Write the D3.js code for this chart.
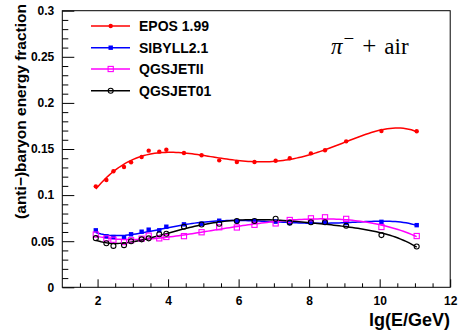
<!DOCTYPE html>
<html>
<head>
<meta charset="utf-8">
<script src="https://cdn.jsdelivr.net/npm/d3@7"></script>
<style>
  html, body { margin: 0; padding: 0; background: #fff; }
  svg { display: block; font-family: "Liberation Sans", Arial, Helvetica, sans-serif; }
</style>
</head>
<body>
<svg id="chart" width="458" height="331"></svg>
<script>
// lg(E/GeV) sampling points shared by all models
const lgE = [1.95, 2.25, 2.45, 2.75, 2.95, 3.25, 3.45, 3.75, 3.95, 4.45, 4.95, 5.45, 5.95, 6.45, 7.05, 7.45, 8.05, 8.45, 9.05, 10.05, 11.05];

// (anti-)baryon energy fraction per hadronic interaction model
const epos   = [0.1095, 0.1164, 0.1258, 0.1305, 0.1356, 0.1413, 0.1482, 0.1471, 0.1492, 0.1457, 0.1432, 0.1377, 0.1359, 0.1359, 0.1373, 0.1399, 0.1453, 0.1486, 0.1583, 0.1695, 0.1692];
const sibyll = [0.0618, 0.0553, 0.0545, 0.0542, 0.0575, 0.0603, 0.0625, 0.0618, 0.0657, 0.0683, 0.0690, 0.0722, 0.0716, 0.0719, 0.0712, 0.0697, 0.0705, 0.0705, 0.0697, 0.0710, 0.0674];
const qgsII  = [0.0572, 0.0530, 0.0516, 0.0491, 0.0510, 0.0527, 0.0560, 0.0531, 0.0546, 0.0555, 0.0597, 0.0651, 0.0649, 0.0678, 0.0693, 0.0730, 0.0748, 0.0759, 0.0742, 0.0654, 0.0556];
const qgs01  = [0.0533, 0.0478, 0.0449, 0.0457, 0.0499, 0.0520, 0.0531, 0.0575, 0.0581, 0.0656, 0.0681, 0.0690, 0.0719, 0.0719, 0.0743, 0.0702, 0.0705, 0.0705, 0.0667, 0.0566, 0.0443];

const modelNames = ["EPOS 1.99", "SIBYLL2.1", "QGSJETII", "QGSJET01"];

// axis ticks
const xMajorTicks = [2, 4, 6, 8, 10, 12];
const yMajorTicks = [0, 0.05, 0.1, 0.15, 0.2, 0.25, 0.3];
const yTickLabels = ["0", "0.05", "0.1", "0.15", "0.2", "0.25", "0.3"];

const series = [
  { name: modelNames[0], values: epos,   color: "#ff0000", marker: "dot" },
  { name: modelNames[1], values: sibyll, color: "#0000ff", marker: "square" },
  { name: modelNames[2], values: qgsII,  color: "#ff00ff", marker: "openSquare" },
  { name: modelNames[3], values: qgs01,  color: "#000000", marker: "openCircle" }
];

// least-squares polynomial fit (returns an evaluator), x centred/scaled for stability
function polyFit(xs, ys, deg) {
  const xm = d3.mean(xs), xs2 = (d3.max(xs) - d3.min(xs)) / 2;
  const t = xs.map(v => (v - xm) / xs2);
  const n = deg + 1;
  const A = Array.from({ length: n }, () => new Array(n + 1).fill(0));
  t.forEach((ti, k) => {
    for (let i = 0; i < n; i++) {
      for (let j = 0; j < n; j++) A[i][j] += Math.pow(ti, i + j);
      A[i][n] += ys[k] * Math.pow(ti, i);
    }
  });
  for (let c = 0; c < n; c++) {
    let p = c;
    for (let r = c + 1; r < n; r++) if (Math.abs(A[r][c]) > Math.abs(A[p][c])) p = r;
    [A[c], A[p]] = [A[p], A[c]];
    for (let r = 0; r < n; r++) {
      if (r === c) continue;
      const f = A[r][c] / A[c][c];
      for (let j = c; j <= n; j++) A[r][j] -= f * A[c][j];
    }
  }
  const coef = A.map((row, i) => row[n] / row[i]);
  return v => {
    const tv = (v - xm) / xs2;
    return coef.reduce((s, c, i) => s + c * Math.pow(tv, i), 0);
  };
}

const svg = d3.select("#chart");
svg.append("rect").attr("width", 458).attr("height", 331).attr("fill", "#fff");

const x = d3.scaleLinear().domain([1, 12]).range([62.3, 450.2]);
const y = d3.scaleLinear().domain([0, 0.3]).range([287.3, 10.7]);
const [x0, x1] = x.range();
const [yb, yt] = y.range();

// minor ticks
const xMinor = d3.range(1.5, 12, 0.5).filter(v => !xMajorTicks.includes(v));
const yMinor = d3.range(0.01, 0.3, 0.01).filter(v => Math.abs(v / 0.05 - Math.round(v / 0.05)) > 1e-6);

const gx = svg.append("g").attr("transform", `translate(0,${yb})`);
gx.call(d3.axisBottom(x).tickValues(xMinor).tickSizeInner(-4).tickSizeOuter(0).tickFormat(""));
gx.call(g => g.select(".domain").remove());
const gx2 = svg.append("g").attr("transform", `translate(0,${yb})`);
gx2.call(d3.axisBottom(x).tickValues(xMajorTicks).tickSizeInner(-8).tickSizeOuter(0).tickPadding(9).tickFormat(d3.format("d")));
gx2.call(g => g.select(".domain").remove());
gx2.selectAll("text").attr("font-size", 12).attr("font-weight", "bold").attr("fill", "#000")
   .style("font-family", "'Liberation Sans', Arial, sans-serif");

const gy = svg.append("g").attr("transform", `translate(${x0},0)`);
gy.call(d3.axisLeft(y).tickValues(yMinor).tickSizeInner(-6).tickSizeOuter(0).tickFormat(""));
gy.call(g => g.select(".domain").remove());
const gy2 = svg.append("g").attr("transform", `translate(${x0},0)`);
gy2.call(d3.axisLeft(y).tickValues(yMajorTicks).tickSizeInner(-12).tickSizeOuter(0).tickPadding(8)
   .tickFormat((d, i) => yTickLabels[i]));
gy2.call(g => g.select(".domain").remove());
gy2.selectAll("text").attr("font-size", 12).attr("font-weight", "bold").attr("fill", "#000")
   .style("font-family", "'Liberation Sans', Arial, sans-serif");

svg.selectAll(".tick line").attr("stroke", "#000").attr("stroke-width", 1);

// frame
svg.append("rect")
  .attr("x", x0).attr("y", yt).attr("width", x1 - x0).attr("height", yb - yt)
  .attr("fill", "none").attr("stroke", "#000").attr("stroke-width", 1);

// marker drawing
function drawMarker(sel, type, color) {
  if (type === "dot") {
    sel.append("circle").attr("r", 2.2).attr("fill", color);
  } else if (type === "square") {
    sel.append("rect").attr("x", -2.2).attr("y", -2.2).attr("width", 4.4).attr("height", 4.4).attr("fill", color);
  } else if (type === "openSquare") {
    sel.append("rect").attr("x", -2.6).attr("y", -2.6).attr("width", 5.2).attr("height", 5.2)
      .attr("fill", "none").attr("stroke", color).attr("stroke-width", 1.1);
  } else {
    sel.append("circle").attr("r", 2.5).attr("fill", "none").attr("stroke", color).attr("stroke-width", 1.1);
  }
}

// fitted curves
series.forEach(s => {
  const f = polyFit(lgE, s.values, 5);
  const lo = d3.min(lgE), hi = d3.max(lgE);
  const pts = d3.range(0, 121).map(k => {
    const e = lo + (hi - lo) * k / 120;
    return [e, f(e)];
  });
  svg.append("path").datum(pts).attr("d", d3.line().x(d => x(d[0])).y(d => y(d[1])))
    .attr("fill", "none").attr("stroke", s.color).attr("stroke-width", 1.5);
});
// data points
series.forEach(s => {
  const pts = lgE.map((e, i) => [e, s.values[i]]);
  svg.append("g").selectAll("g").data(pts).join("g")
    .attr("transform", d => `translate(${x(d[0])},${y(d[1])})`)
    .each(function () { drawMarker(d3.select(this), s.marker, s.color); });
});

// legend
const legendRows = [26, 47.7, 69, 90.7];
series.forEach((s, i) => {
  const g = svg.append("g").attr("transform", `translate(0,${legendRows[i]})`);
  g.append("line").attr("x1", 91).attr("x2", 130).attr("y1", 0).attr("y2", 0)
    .attr("stroke", s.color).attr("stroke-width", 1.5);
  const m = g.append("g").attr("transform", "translate(110.7,0)");
  drawMarker(m, s.marker, s.color);
  g.append("text").attr("x", 139).attr("y", 5).attr("font-size", 14).attr("font-weight", "bold")
    .attr("fill", "#000").text(s.name);
});

// reaction label
const react = svg.append("text").attr("x", 331).attr("y", 54)
  .style("font-family", "'Liberation Serif', 'Times New Roman', serif").attr("font-size", 23).attr("fill", "#000");
react.append("tspan").attr("font-style", "italic").text("π");
react.append("tspan").attr("dy", -9).attr("dx", 1).attr("font-size", 19).text("−");
react.append("tspan").attr("dy", 9).attr("dx", 8).attr("font-size", 25).text("+");
react.append("tspan").attr("dx", 8).text("air");

// axis titles
svg.append("text").attr("x", 450).attr("y", 326).attr("text-anchor", "end")
  .attr("font-size", 18).attr("font-weight", "bold").attr("fill", "#000").text("lg(E/GeV)");
svg.append("text").attr("transform", "translate(26,4) rotate(-90)").attr("text-anchor", "end")
  .attr("font-size", 15.5).attr("font-weight", "bold").attr("fill", "#000")
  .text("(anti−)baryon energy fraction");
</script>
</body>
</html>
